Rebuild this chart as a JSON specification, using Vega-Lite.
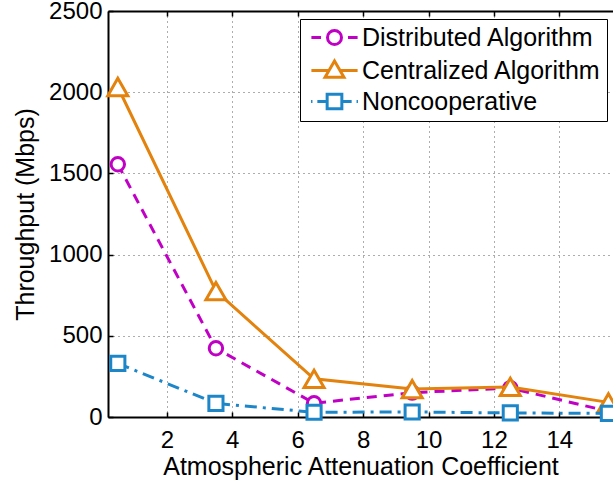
{
  "$schema": "https://vega.github.io/schema/vega-lite/v6.json",
  "autosize": {"type": "none"},
  "padding": {"left": 108, "top": 11, "right": 0, "bottom": 68},
  "width": 505,
  "height": 406,
  "background": "white",
  "config": {
    "view": {"stroke": null},
    "font": "Liberation Sans",
    "axis": {
      "labelFont": "Liberation Sans",
      "titleFont": "Liberation Sans",
      "labelFontSize": 24,
      "titleFontSize": 25,
      "labelColor": "black",
      "titleColor": "black",
      "titleFontWeight": "normal",
      "domainColor": "black",
      "domainWidth": 2,
      "tickColor": "black",
      "tickWidth": 1.5,
      "gridColor": "#333333",
      "gridDash": [1, 4],
      "gridWidth": 1,
      "gridOpacity": 0.8
    },
    "legend": {
      "orient": "none",
      "legendX": 192,
      "legendY": 8,
      "labelFont": "Liberation Sans",
      "labelFontSize": 25,
      "labelColor": "black",
      "labelLimit": 400,
      "symbolSize": 196,
      "symbolStrokeWidth": 3,
      "symbolFillColor": "white",
      "symbolOpacity": 1,
      "symbolOffset": 16,
      "labelOffset": 15,
      "rowPadding": 4,
      "padding": 6,
      "strokeColor": "black",
      "fillColor": "white"
    }
  },
  "data": {
    "values": [
      {"a": 0.5, "t": 1556, "s": "Distributed Algorithm"},
      {"a": 3.5, "t": 423, "s": "Distributed Algorithm"},
      {"a": 6.5, "t": 85, "s": "Distributed Algorithm"},
      {"a": 9.5, "t": 150, "s": "Distributed Algorithm"},
      {"a": 12.5, "t": 178, "s": "Distributed Algorithm"},
      {"a": 15.5, "t": 35, "s": "Distributed Algorithm"},
      {"a": 0.5, "t": 2032, "s": "Centralized Algorithm"},
      {"a": 3.5, "t": 775, "s": "Centralized Algorithm"},
      {"a": 6.5, "t": 235, "s": "Centralized Algorithm"},
      {"a": 9.5, "t": 172, "s": "Centralized Algorithm"},
      {"a": 12.5, "t": 185, "s": "Centralized Algorithm"},
      {"a": 15.5, "t": 90, "s": "Centralized Algorithm"},
      {"a": 0.5, "t": 330, "s": "Noncooperative"},
      {"a": 3.5, "t": 84, "s": "Noncooperative"},
      {"a": 6.5, "t": 29, "s": "Noncooperative"},
      {"a": 9.5, "t": 31, "s": "Noncooperative"},
      {"a": 12.5, "t": 25, "s": "Noncooperative"},
      {"a": 15.5, "t": 22, "s": "Noncooperative"}
    ]
  },
  "layer": [
    {
      "transform": [{"filter": "datum.s === 'Distributed Algorithm'"}],
      "mark": {"type": "line", "strokeWidth": 3, "color": "#c000c4", "strokeDash": [10, 7], "clip": true},
      "encoding": {
        "x": {
          "field": "a", "type": "quantitative",
          "scale": {"domain": [0.2, 15.64], "nice": false, "zero": false},
          "axis": {
            "title": "Atmospheric Attenuation Coefficient",
            "values": [2, 4, 6, 8, 10, 12, 14],
            "tickSize": -5,
            "labelPadding": 16,
            "titlePadding": 2
          }
        },
        "y": {
          "field": "t", "type": "quantitative",
          "scale": {"domain": [0, 2500], "nice": false},
          "axis": {
            "title": "Throughput (Mbps)",
            "values": [0, 500, 1000, 1500, 2000, 2500],
            "format": "d",
            "tickSize": -5,
            "labelPadding": 11,
            "titlePadding": 10
          }
        }
      }
    },
    {
      "transform": [{"filter": "datum.s === 'Distributed Algorithm'"}],
      "mark": {"type": "point", "shape": "circle", "filled": false, "fill": "white", "stroke": "#c000c4", "strokeWidth": 3, "size": 180, "opacity": 1},
      "encoding": {
        "x": {
          "field": "a", "type": "quantitative",
          "axis": {"orient": "top", "labels": false, "title": null, "grid": false, "domainWidth": 2, "tickSize": -5, "values": [2, 4, 6, 8, 10, 12, 14]}
        },
        "y": {"field": "t", "type": "quantitative"}
      }
    },
    {
      "transform": [{"filter": "datum.s === 'Centralized Algorithm'"}],
      "mark": {"type": "line", "strokeWidth": 3, "color": "#e3820c", "clip": true},
      "encoding": {
        "x": {"field": "a", "type": "quantitative", "axis": null},
        "y": {"field": "t", "type": "quantitative"}
      }
    },
    {
      "transform": [{"filter": "datum.s === 'Centralized Algorithm'"}],
      "mark": {"type": "point", "shape": "triangle-up", "filled": false, "fill": "white", "stroke": "#e3820c", "strokeWidth": 3, "size": 400, "opacity": 1},
      "encoding": {
        "x": {"field": "a", "type": "quantitative", "axis": null},
        "y": {"field": "t", "type": "quantitative"}
      }
    },
    {
      "transform": [{"filter": "datum.s === 'Noncooperative'"}],
      "mark": {"type": "line", "strokeWidth": 3, "color": "#1c86c8", "strokeDash": [12, 6, 3, 6], "clip": true},
      "encoding": {
        "x": {"field": "a", "type": "quantitative", "axis": null},
        "y": {"field": "t", "type": "quantitative"}
      }
    },
    {
      "transform": [{"filter": "datum.s === 'Noncooperative'"}],
      "mark": {"type": "point", "shape": "square", "filled": false, "fill": "white", "stroke": "#1c86c8", "strokeWidth": 3, "size": 200, "opacity": 1},
      "encoding": {
        "x": {"field": "a", "type": "quantitative", "axis": null},
        "y": {"field": "t", "type": "quantitative"}
      }
    },
    {
      "mark": {"type": "point", "filled": false, "strokeWidth": 3, "opacity": 0},
      "encoding": {
        "x": {"field": "a", "type": "quantitative", "axis": null},
        "y": {"field": "t", "type": "quantitative"},
        "color": {
          "field": "s", "type": "nominal",
          "scale": {
            "domain": ["Distributed Algorithm", "Centralized Algorithm", "Noncooperative"],
            "range": ["#c000c4", "#e3820c", "#1c86c8"]
          },
          "legend": {"title": null}
        },
        "shape": {
          "field": "s", "type": "nominal",
          "scale": {
            "domain": ["Distributed Algorithm", "Centralized Algorithm", "Noncooperative"],
            "range": [
              "M-3.3,0L-1.93,0M1.93,0L3.3,0M-1,0A1,1 0 1,1 1,0A1,1 0 1,1 -1,0Z",
              "M-3.3,0L-0.75,0M0.75,0L3.3,0M-1.35,0.95L0,-1.35L1.35,0.95Z",
              "M-3.35,0L-3.15,0M-2.45,0L-1.1,0M1.1,0L2.45,0M3.15,0L3.35,0M-1.05,-1.05L1.05,-1.05L1.05,1.05L-1.05,1.05Z"
            ]
          },
          "legend": {"title": null}
        }
      }
    }
  ],
  "resolve": {"axis": {"x": "independent"}}
}
